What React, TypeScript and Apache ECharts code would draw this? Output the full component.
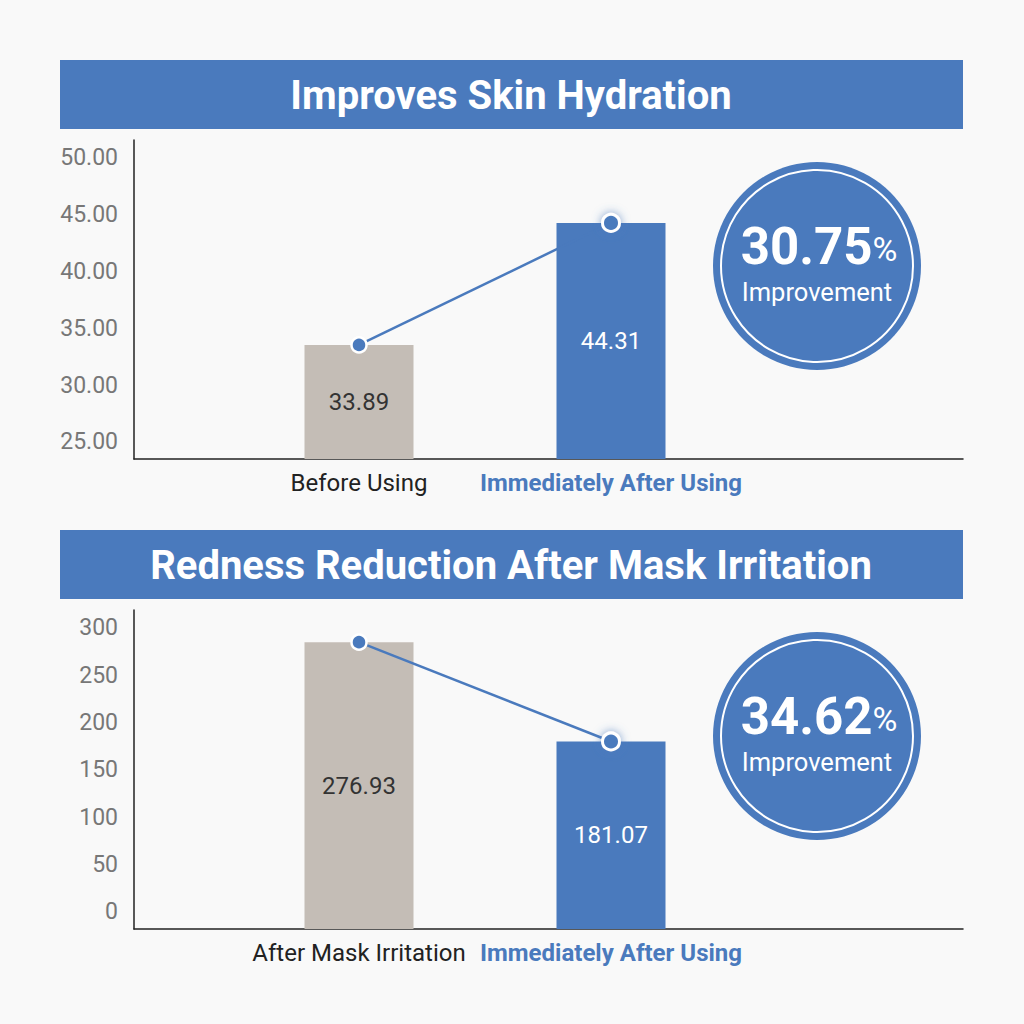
import React, { useEffect, useRef } from "react";
import * as echarts from "echarts";

const topTitle = "Improves Skin Hydration";
const topCategories = ["Before Using", "Immediately After Using"];
const topValues = [33.89, 44.31];
// visible tick axis range and the bar scale range (as drawn in the source)
const topAxisMin = 23.5;
const topAxisMax = 51.58;
const topBarMin = 24.15;
const topBarMax = 51.39;
const topStep = 5;
const topDecimals = 2;
const topImprovement = "30.75";

const bottomTitle = "Redness Reduction After Mask Irritation";
const bottomCategories = ["After Mask Irritation", "Immediately After Using"];
const bottomValues = [276.93, 181.07];
const bottomAxisMin = -18;
const bottomAxisMax = 319;
const bottomBarMin = 0;
const bottomBarMax = 308;
const bottomStep = 50;
const bottomDecimals = 0;
const bottomImprovement = "34.62";

const improvementLabel = "Improvement";

const BLUE = "#4a7abd";
const GRAY = "#c4bdb6";
const FONT = "Roboto, 'Noto Sans', sans-serif";

export default function App() {
  const ref = useRef<HTMLDivElement>(null);
  useEffect(() => {
    if (!ref.current) return;
    const chart = echarts.init(ref.current, null, { renderer: "svg" });

    const panels = [
      { title: topTitle, cats: topCategories, vals: topValues, min: topAxisMin, max: topAxisMax, bmin: topBarMin, bmax: topBarMax, step: topStep, dec: topDecimals, imp: topImprovement, off: 0 },
      { title: bottomTitle, cats: bottomCategories, vals: bottomValues, min: bottomAxisMin, max: bottomAxisMax, bmin: bottomBarMin, bmax: bottomBarMax, step: bottomStep, dec: bottomDecimals, imp: bottomImprovement, off: 470 },
    ];

    const grid: any[] = [];
    const xAxis: any[] = [];
    const yAxis: any[] = [];
    const series: any[] = [];
    const graphic: any[] = [];

    panels.forEach((p, k) => {
      const top = 140 + p.off;
      const h = 319;
      grid.push({ left: 134, top, width: 829, height: h });
      grid.push({ left: 233, top, width: 504, height: h });
      const gA = k * 2;
      const gB = k * 2 + 1;
      xAxis.push({
        type: "category",
        gridIndex: gA,
        data: [""],
        axisLine: { show: true, onZero: false, lineStyle: { color: "#222", width: 1.5 } },
        axisTick: { show: false },
        axisLabel: { show: false },
      });
      xAxis.push({
        type: "category",
        gridIndex: gB,
        data: p.cats,
        axisLine: { show: false, onZero: false },
        axisTick: { show: false },
        axisLabel: {
          margin: 12,
          formatter: (v: string, i: number) => (i === 1 ? `{b|${v}}` : `{a|${v}}`),
          rich: {
            a: { fontSize: 24, color: "#222", fontFamily: FONT },
            b: { fontSize: 24, color: BLUE, fontWeight: "bold", fontFamily: FONT },
          },
        },
      });
      yAxis.push({
        type: "value",
        gridIndex: gA,
        min: p.min,
        max: p.max,
        splitNumber: 5,
        axisLine: { show: true, lineStyle: { color: "#222", width: 1.5 } },
        axisTick: { show: false },
        splitLine: { show: false },
        axisLabel: {
          margin: 16,
          fontSize: 23,
          color: "#777",
          fontFamily: FONT,
          formatter: (v: number) => {
            const r = v / p.step;
            return Math.abs(r - Math.round(r)) < 1e-6 ? v.toFixed(p.dec) : "";
          },
        },
      });
      yAxis.push({
        type: "value",
        gridIndex: gB,
        min: p.bmin,
        max: p.bmax,
        show: false,
        splitLine: { show: false },
      });
      series.push({
        type: "bar",
        xAxisIndex: gB,
        yAxisIndex: gB,
        barWidth: 109,
        data: p.vals.map((v, i) => ({
          value: v,
          itemStyle: { color: i === 0 ? GRAY : BLUE },
          label: { color: i === 0 ? "#333" : "#fff" },
        })),
        label: {
          show: true,
          position: "inside",
          fontSize: 24,
          fontFamily: FONT,
          formatter: (d: any) => d.value.toFixed(2),
        },
        z: 2,
      });
      series.push({
        type: "line",
        xAxisIndex: gB,
        yAxisIndex: gB,
        data: p.vals.map((v, i) => ({
          value: v,
          symbolSize: i === 1 ? 17 : 15,
          itemStyle:
            i === 1
              ? { color: BLUE, borderColor: "#fff", borderWidth: 3, shadowBlur: 10, shadowColor: "rgba(74,122,189,0.7)" }
              : { color: BLUE, borderColor: "#fff", borderWidth: 2.5 },
        })),
        symbol: "circle",
        lineStyle: { color: BLUE, width: 2.5 },
        label: { show: false },
        z: 5,
      });

      graphic.push({
        type: "rect",
        shape: { x: 60, y: 60 + p.off, width: 903, height: 69 },
        style: { fill: BLUE },
      });
      graphic.push({
        type: "text",
        x: 511,
        y: 95 + p.off,
        style: {
          text: p.title,
          fill: "#fff",
          fontSize: 40,
          fontWeight: "bold",
          fontFamily: FONT,
          align: "center",
          verticalAlign: "middle",
        },
      });
      graphic.push({
        type: "circle",
        shape: { cx: 817, cy: 266 + p.off, r: 104 },
        style: { fill: BLUE },
      });
      graphic.push({
        type: "circle",
        shape: { cx: 817, cy: 266 + p.off, r: 96 },
        style: { fill: "none", stroke: "#fff", lineWidth: 2 },
      });
      graphic.push({
        type: "text",
        x: 819,
        y: 246 + p.off,
        style: {
          text: `{n|${p.imp}}{p|%}`,
          align: "center",
          verticalAlign: "middle",
          rich: {
            n: { fontSize: 51, lineHeight: 40, fontWeight: "bold", fill: "#fff", color: "#fff", fontFamily: FONT },
            p: { fontSize: 34, lineHeight: 26, fill: "#fff", color: "#fff", fontFamily: FONT, verticalAlign: "bottom" },
          },
        },
      });
      graphic.push({
        type: "text",
        x: 817,
        y: 292 + p.off,
        style: {
          text: improvementLabel,
          fill: "#fff",
          fontSize: 25.5,
          lineHeight: 24,
          fontFamily: FONT,
          align: "center",
          verticalAlign: "middle",
        },
      });
    });

    chart.setOption({
      animation: false,
      backgroundColor: "#f9f9f9",
      grid,
      xAxis,
      yAxis,
      series,
      graphic,
    });
    return () => chart.dispose();
  }, []);
  return (
    <div
      ref={ref}
      style={{ position: "fixed", left: 0, top: 0, width: 1024, height: 1024 }}
    />
  );
}
